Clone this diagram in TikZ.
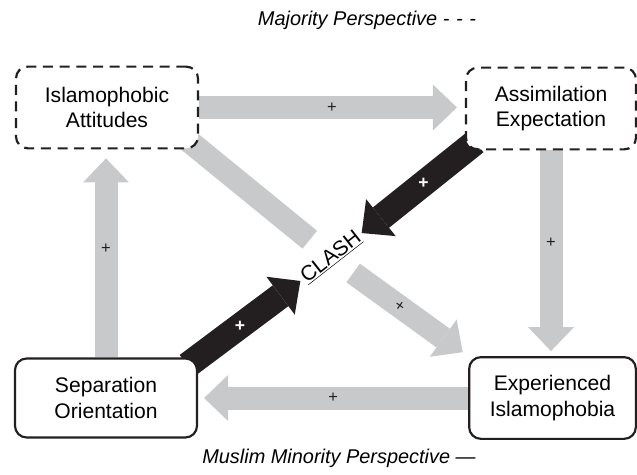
\documentclass[tikz,border=0pt]{standalone}
\usepackage{fontspec}
\setmainfont{Liberation Sans}
\usetikzlibrary{arrows.meta,backgrounds}
\definecolor{flowgray}{HTML}{C8C9CA}
\definecolor{clashblack}{HTML}{231F20}
\tikzset{
  perspbox/.style={draw=clashblack,line width=0.065cm,fill=white,rounded corners=0.35cm,align=center,minimum height=2.45cm,font=\fontsize{18}{22}\selectfont},
  majoritybox/.style={perspbox,dash pattern=on 0.3cm off 0.2cm},
  minoritybox/.style={perspbox},
  grayband/.style={draw=flowgray,line width=0.69cm},
  grayflow/.style={grayband,-{Triangle[width=1.38cm,length=0.72cm,line width=0pt]}},
  blackflow/.style={draw=clashblack,line width=0.78cm,-{Triangle[width=1.42cm,length=0.74cm,line width=0pt]}},
  pluslabel/.style={font=\fontsize{14}{14}\selectfont,text=clashblack},
  whiteplus/.style={font=\bfseries\fontsize{15}{15}\selectfont,text=white},
  persptitle/.style={font=\itshape\fontsize{17}{19}\selectfont}
}

\begin{document}
\begin{tikzpicture}[x=0.03cm,y=-0.03cm]
  \useasboundingbox (0,0) rectangle (637,475);
  % the four boxes
  \node[majoritybox,minimum width=5.46cm] (IA) at (107,107.5) {Islamophobic\\Attitudes};
  \node[majoritybox,minimum width=5.1cm] (AE) at (551,108.5) {Assimilation\\Expectation};
  \node[minoritybox,minimum width=5.46cm,minimum height=2.37cm] (SO) at (106,398) {Separation\\Orientation};
  \node[minoritybox,minimum width=5.0cm] (EI) at (552.5,398) {Experienced\\Islamophobia};
  \node[font=\fontsize{18}{20}\selectfont,rotate=38,inner xsep=3pt,inner ysep=1pt] (clash) at (331,257) {\underline{CLASH}};
  \node[persptitle] (majtitle) at (367,20) {Majority Perspective -\,\,-\,\,-};
  \node[persptitle] (mintitle) at (339,458) {Muslim Minority Perspective ---};
  \begin{scope}[on background layer]
    \draw[grayflow,shorten >=0.24cm] (IA.east) -- (IA.east -| AE.west) node[pluslabel,midway] {+};
    \draw[grayflow,shorten >=0.15cm] (AE.south) -- (AE.south |- EI.north) node[pluslabel,pos=0.45] {+};
    \draw[grayflow,shorten >=0.18cm] (EI.west) -- (EI.west -| SO.east) node[pluslabel,midway] {+};
    \draw[grayflow,shorten >=0.27cm] (SO.north) -- (SO.north |- IA.south) node[pluslabel,pos=0.52] {+};
    % diagonal, broken at the clash label
    \draw[grayband,shorten <=-0.45cm,shorten >=0.82cm] (IA.south east) -- (clash.center);
    \draw[grayflow,shorten <=0.82cm,shorten >=0.2cm] (clash.center) -- (EI.north west) node[pluslabel,pos=0.5,sloped] {+};
    \draw[blackflow,shorten <=-0.4cm] (AE.south west) -- (clash.east) node[whiteplus,pos=0.4] {+};
    \draw[blackflow,shorten <=-0.4cm] (SO.north east) -- (clash.west) node[whiteplus,pos=0.41] {+};
  \end{scope}
\end{tikzpicture}
\end{document}
